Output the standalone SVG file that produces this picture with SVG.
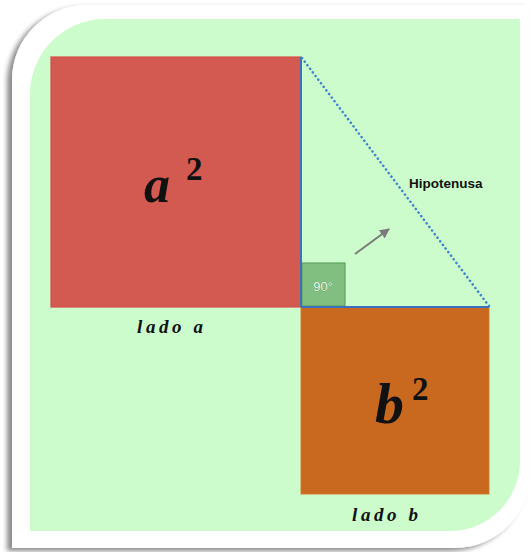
<svg xmlns="http://www.w3.org/2000/svg" width="531" height="552" viewBox="0 0 531 552">
<defs>
<filter id="sh" x="-10%" y="-10%" width="120%" height="120%">
<feDropShadow dx="-5" dy="3" stdDeviation="2.5" flood-color="#000" flood-opacity="0.45"/>
</filter>
<marker id="ah" viewBox="0 0 10 10" refX="9" refY="5" markerWidth="5" markerHeight="5" orient="auto" markerUnits="strokeWidth">
<path d="M0,0 L10,5 L0,10 Z" fill="#7a7a7a"/>
</marker>
<style>
.math{font-family:"Liberation Serif","DejaVu Serif",serif;font-style:italic;font-weight:bold;fill:#111}
.sup{font-family:"Liberation Serif","DejaVu Serif",serif;font-style:normal;font-weight:bold;fill:#111}
.lbl{font-family:"Liberation Serif","DejaVu Serif",serif;font-style:italic;font-weight:bold;font-size:19px;letter-spacing:3.6px;fill:#111}
.leg{stroke:#3d6fbf;stroke-width:2;fill:none}
</style>
</defs>
<rect width="531" height="552" fill="#fff"/>
<path d="M87,5 H530 V473 A75 75 0 0 1 455 548 H12 V80 A75 75 0 0 1 87 5 Z" fill="#fff" filter="url(#sh)"/>
<path d="M105,19 H520 V461 A70 70 0 0 1 450 531 H30 V94 A75 75 0 0 1 105 19 Z" fill="#ccfccc"/>
<g id="squareA">
<rect x="51" y="57" width="250" height="250" fill="#d35a50" stroke="#d84c48" stroke-width="1.2"/>
<text class="math" x="144" y="202" font-size="52">a</text>
<text class="sup" x="186" y="180" font-size="33">2</text>
</g>
<g id="squareB">
<rect x="301" y="307" width="188" height="187" fill="#c8691f" stroke="#d97a35" stroke-width="1"/>
<text class="math" x="375" y="423" font-size="58">b</text>
<text class="sup" x="412" y="400" font-size="33">2</text>
</g>
<g id="rightAngle">
<rect x="302" y="263" width="43" height="43" fill="#80bf80" stroke="#5fa35f" stroke-width="1.2"/>
<text x="323" y="291" font-family="Liberation Sans, Arial, sans-serif" font-size="13" text-anchor="middle" fill="#eaf7ea" stroke="#4f8f4f" stroke-width="0.5" paint-order="stroke">90°</text>
</g>
<g id="connectors">
<line class="leg" x1="301" y1="57" x2="301" y2="307"/>
<line class="leg" x1="301" y1="307" x2="489" y2="307"/>
<line x1="302" y1="58" x2="489" y2="306" stroke="#3b82d0" stroke-width="2.5" stroke-dasharray="0.1 4.4" stroke-linecap="round"/>
<line x1="355" y1="254" x2="389" y2="229" stroke="#7a7a7a" stroke-width="2" marker-end="url(#ah)"/>
</g>
<g id="labels">
<text x="409" y="188" font-family="Liberation Sans, Arial, sans-serif" font-size="13.5" font-weight="bold" fill="#111">Hipotenusa</text>
<text class="lbl" x="137" y="333">lado a</text>
<text class="lbl" x="352" y="521">lado b</text>
</g>
</svg>
